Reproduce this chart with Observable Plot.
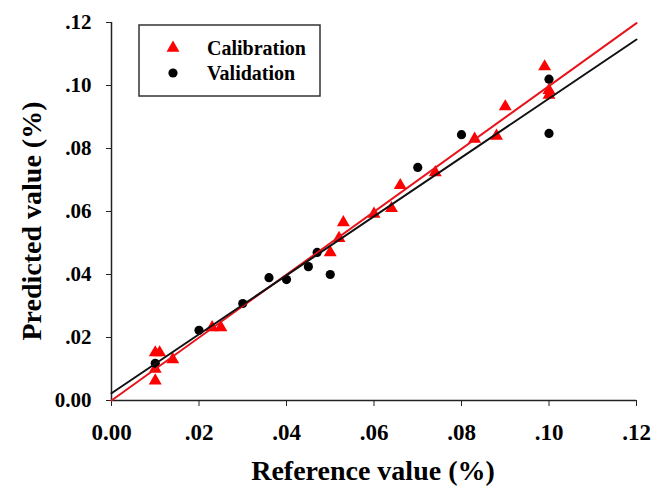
<!DOCTYPE html>
<html>
<head>
<meta charset="utf-8">
<script src="https://cdn.jsdelivr.net/npm/d3@7"></script>
<script src="https://cdn.jsdelivr.net/npm/@observablehq/plot@0.6"></script>
<style>
  html, body { margin: 0; padding: 0; background: #fff; }
  #chart { position: relative; width: 652px; height: 488px; }
  #chart svg text { font-family: "Liberation Serif", "Times New Roman", serif !important; font-weight: bold; }
</style>
</head>
<body>
<div id="chart"></div>
<script>
// Calibration set (reference %, predicted %)
const calRef  = [0.010, 0.010, 0.010, 0.011, 0.014, 0.023, 0.025, 0.050, 0.052, 0.053, 0.060, 0.064, 0.066, 0.074, 0.083, 0.088, 0.090, 0.099, 0.100, 0.100];
const calPred = [0.0063, 0.0100, 0.0152, 0.0152, 0.0130, 0.0232, 0.0232, 0.0470, 0.0515, 0.0565, 0.0592, 0.0610, 0.0683, 0.0724, 0.0830, 0.0840, 0.0933, 0.1060, 0.0985, 0.0970];
// Validation set
const valRef  = [0.010, 0.020, 0.030, 0.036, 0.040, 0.045, 0.047, 0.050, 0.070, 0.080, 0.100, 0.100];
const valPred = [0.0118, 0.0223, 0.0308, 0.0390, 0.0384, 0.0425, 0.0470, 0.0400, 0.0740, 0.0844, 0.1020, 0.0848];
// Fitted lines (end points)
const fitX      = [0, 0.12];
const calFitY   = [0.0000, 0.1198];
const valFitY   = [0.0023, 0.1146];
// Ticks
const tickValues = [0, 0.02, 0.04, 0.06, 0.08, 0.10, 0.12];
const tickLabels = ["0.00", ".02", ".04", ".06", ".08", ".10", ".12"];
const xTitle = "Reference value (%)";
const yTitle = "Predicted value (%)";
const legendNames = ["Calibration", "Validation"];

const cal = calRef.map((x, i) => ({x, y: calPred[i]}));
const val = valRef.map((x, i) => ({x, y: valPred[i]}));
const calLine = fitX.map((x, i) => ({x, y: calFitY[i]}));
const valLine = fitX.map((x, i) => ({x, y: valFitY[i]}));
const fmt = d => tickLabels[tickValues.findIndex(t => Math.abs(t - d) < 1e-9)];

const font = "'Liberation Serif', 'Times New Roman', serif";

const chart = Plot.plot({
  width: 652,
  height: 488,
  marginLeft: 111,
  marginRight: 16,
  marginTop: 22,
  marginBottom: 88,
  style: {fontFamily: font, fontWeight: "bold", color: "#000", background: "#fff"},
  x: {domain: [0, 0.12]},
  y: {domain: [0, 0.12]},
  marks: [
    Plot.axisX({ticks: tickValues, tickFormat: fmt, tickSize: 6, tickPadding: 17, fontSize: 23, label: null, stroke: "#222"}),
    Plot.axisY({ticks: tickValues, tickFormat: fmt, tickSize: 5, tickPadding: 15, fontSize: 21, label: null, stroke: "#222"}),
    Plot.ruleX([0], {stroke: "#222", strokeWidth: 1.5}),
    Plot.ruleY([0], {stroke: "#222", strokeWidth: 1.5}),
    Plot.dot(cal, {x: "x", y: "y", symbol: "triangle", r: 4.8, fill: "#ff0000", stroke: "none"}),
    Plot.dot(val, {x: "x", y: "y", symbol: "circle", r: 4.6, fill: "#000", stroke: "none"}),
    Plot.line(calLine, {x: "x", y: "y", stroke: "#e8141b", strokeWidth: 2}),
    Plot.line(valLine, {x: "x", y: "y", stroke: "#111", strokeWidth: 2})
  ]
});

const svg = d3.select(chart);
// Axis titles
const titles = svg.append("g").attr("font-family", font).attr("font-weight", "bold")
  .attr("font-size", 28).attr("fill", "#000").attr("text-anchor", "middle");
titles.append("text").attr("x", 373).attr("y", 480).text(xTitle);
titles.append("text").attr("transform", "translate(41,221) rotate(-90)").text(yTitle);

// Legend box
const lg = svg.append("g").attr("font-family", font).attr("font-weight", "bold");
lg.append("rect").attr("x", 139).attr("y", 25).attr("width", 181).attr("height", 71)
  .attr("fill", "#fff").attr("stroke", "#333").attr("stroke-width", 1.5);
lg.append("path").attr("d", d3.symbol(d3.symbolTriangle, Math.PI * 4.8 * 4.8)())
  .attr("transform", "translate(173,48)").attr("fill", "#ff0000");
lg.append("circle").attr("cx", 173).attr("cy", 73).attr("r", 4.6).attr("fill", "#000");
lg.append("text").attr("x", 207).attr("y", 55).attr("font-size", 20).attr("fill", "#000")
  .attr("text-anchor", "start").text(legendNames[0]);
lg.append("text").attr("x", 207).attr("y", 80).attr("font-size", 20).attr("fill", "#000")
  .attr("text-anchor", "start").text(legendNames[1]);

document.getElementById("chart").appendChild(chart);
</script>
</body>
</html>
